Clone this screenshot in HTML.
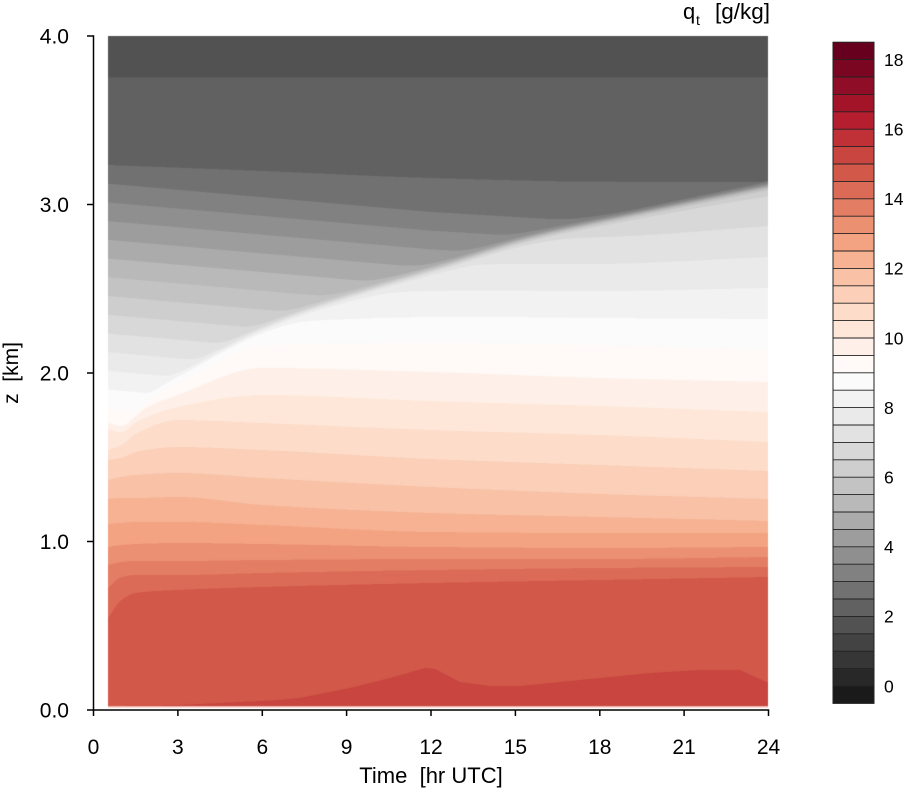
<!DOCTYPE html>
<html><head><meta charset="utf-8">
<style>
html,body{margin:0;padding:0;background:#fff;}
body{width:904px;height:792px;position:relative;overflow:hidden;font-family:"Liberation Sans",Arial,sans-serif;}
#c{position:absolute;left:0;top:0;}
#s{position:absolute;left:0;top:0;}
</style></head><body>
<canvas id="c" width="904" height="792"></canvas>
<svg id="s" width="904" height="792" xmlns="http://www.w3.org/2000/svg" font-family="Liberation Sans, Arial, sans-serif">
<g stroke="#000" stroke-width="1.5" fill="none">
<line x1="93.5" y1="35.3" x2="93.5" y2="710.7"/>
<line x1="92.8" y1="710" x2="769.2" y2="710"/>
<line x1="87" y1="36" x2="93.5" y2="36"/>
<line x1="87" y1="204.5" x2="93.5" y2="204.5"/>
<line x1="87" y1="373" x2="93.5" y2="373"/>
<line x1="87" y1="541.5" x2="93.5" y2="541.5"/>
<line x1="87" y1="710" x2="93.5" y2="710"/>
<line x1="93.5" y1="710" x2="93.5" y2="716"/>
<line x1="177.9" y1="710" x2="177.9" y2="716"/>
<line x1="262.3" y1="710" x2="262.3" y2="716"/>
<line x1="346.6" y1="710" x2="346.6" y2="716"/>
<line x1="431" y1="710" x2="431" y2="716"/>
<line x1="515.4" y1="710" x2="515.4" y2="716"/>
<line x1="599.8" y1="710" x2="599.8" y2="716"/>
<line x1="684.1" y1="710" x2="684.1" y2="716"/>
<line x1="768.5" y1="710" x2="768.5" y2="716"/>
</g>
<g font-size="21" fill="#000" text-anchor="end">
<text x="69" y="43.5">4.0</text>
<text x="69" y="212">3.0</text>
<text x="69" y="380.5">2.0</text>
<text x="69" y="549">1.0</text>
<text x="69" y="717.5">0.0</text>
</g>
<g font-size="21" fill="#000" text-anchor="middle">
<text x="93.5" y="754">0</text>
<text x="177.9" y="754">3</text>
<text x="262.3" y="754">6</text>
<text x="346.6" y="754">9</text>
<text x="431" y="754">12</text>
<text x="515.4" y="754">15</text>
<text x="599.8" y="754">18</text>
<text x="684.1" y="754">21</text>
<text x="768.5" y="754">24</text>
</g>
<text x="431" y="783" font-size="22" text-anchor="middle" fill="#000">Time&#160; [hr UTC]</text>
<text x="18" y="373" font-size="21" text-anchor="middle" fill="#000" transform="rotate(-90 18 373)">z&#160; [km]</text>
<text x="683" y="19" font-size="22" fill="#000">q</text>
<text x="696" y="25" font-size="14" fill="#000">t</text>
<text x="770" y="19" font-size="22.5" text-anchor="end" fill="#000">[g/kg]</text>
<g stroke="none">
<rect x="833" y="686.0" width="41" height="17.4" fill="#1a1a1a"/>
<rect x="833" y="668.6" width="41" height="17.4" fill="#282828"/>
<rect x="833" y="651.2" width="41" height="17.4" fill="#363636"/>
<rect x="833" y="633.8" width="41" height="17.4" fill="#434343"/>
<rect x="833" y="616.4" width="41" height="17.4" fill="#525252"/>
<rect x="833" y="599.0" width="41" height="17.4" fill="#616161"/>
<rect x="833" y="581.6" width="41" height="17.4" fill="#717171"/>
<rect x="833" y="564.2" width="41" height="17.4" fill="#818181"/>
<rect x="833" y="546.8" width="41" height="17.4" fill="#8f8f8f"/>
<rect x="833" y="529.4" width="41" height="17.4" fill="#9d9d9d"/>
<rect x="833" y="512.0" width="41" height="17.4" fill="#ababab"/>
<rect x="833" y="494.6" width="41" height="17.4" fill="#b9b9b9"/>
<rect x="833" y="477.2" width="41" height="17.4" fill="#c3c3c3"/>
<rect x="833" y="459.8" width="41" height="17.4" fill="#cecece"/>
<rect x="833" y="442.4" width="41" height="17.4" fill="#d8d8d8"/>
<rect x="833" y="425.0" width="41" height="17.4" fill="#e2e2e2"/>
<rect x="833" y="407.6" width="41" height="17.4" fill="#eaeaea"/>
<rect x="833" y="390.2" width="41" height="17.4" fill="#f2f2f2"/>
<rect x="833" y="372.8" width="41" height="17.4" fill="#fbfbfb"/>
<rect x="833" y="355.4" width="41" height="17.4" fill="#fffaf7"/>
<rect x="833" y="338.0" width="41" height="17.4" fill="#fef0e8"/>
<rect x="833" y="320.6" width="41" height="17.4" fill="#fee7d9"/>
<rect x="833" y="303.2" width="41" height="17.4" fill="#fdddca"/>
<rect x="833" y="285.8" width="41" height="17.4" fill="#fbcfb8"/>
<rect x="833" y="268.4" width="41" height="17.4" fill="#f9c1a5"/>
<rect x="833" y="251.0" width="41" height="17.4" fill="#f6b293"/>
<rect x="833" y="233.6" width="41" height="17.4" fill="#f3a381"/>
<rect x="833" y="216.2" width="41" height="17.4" fill="#eb9172"/>
<rect x="833" y="198.8" width="41" height="17.4" fill="#e37e64"/>
<rect x="833" y="181.4" width="41" height="17.4" fill="#db6b56"/>
<rect x="833" y="164.0" width="41" height="17.4" fill="#d25849"/>
<rect x="833" y="146.6" width="41" height="17.4" fill="#c84540"/>
<rect x="833" y="129.2" width="41" height="17.4" fill="#bf3137"/>
<rect x="833" y="111.8" width="41" height="17.4" fill="#b51e2e"/>
<rect x="833" y="94.4" width="41" height="17.4" fill="#a41429"/>
<rect x="833" y="77.0" width="41" height="17.4" fill="#8f0d26"/>
<rect x="833" y="59.6" width="41" height="17.4" fill="#7b0622"/>
<rect x="833" y="42.2" width="41" height="17.4" fill="#67001f"/>
</g>
<g stroke="#222" stroke-width="0.9">
<line x1="833" x2="874" y1="686.0" y2="686.0"/><line x1="833" x2="874" y1="668.6" y2="668.6"/>
<line x1="833" x2="874" y1="651.2" y2="651.2"/><line x1="833" x2="874" y1="633.8" y2="633.8"/>
<line x1="833" x2="874" y1="616.4" y2="616.4"/><line x1="833" x2="874" y1="599.0" y2="599.0"/>
<line x1="833" x2="874" y1="581.6" y2="581.6"/><line x1="833" x2="874" y1="564.2" y2="564.2"/>
<line x1="833" x2="874" y1="546.8" y2="546.8"/><line x1="833" x2="874" y1="529.4" y2="529.4"/>
<line x1="833" x2="874" y1="512.0" y2="512.0"/><line x1="833" x2="874" y1="494.6" y2="494.6"/>
<line x1="833" x2="874" y1="477.2" y2="477.2"/><line x1="833" x2="874" y1="459.8" y2="459.8"/>
<line x1="833" x2="874" y1="442.4" y2="442.4"/><line x1="833" x2="874" y1="425.0" y2="425.0"/>
<line x1="833" x2="874" y1="407.6" y2="407.6"/><line x1="833" x2="874" y1="390.2" y2="390.2"/>
<line x1="833" x2="874" y1="372.8" y2="372.8"/><line x1="833" x2="874" y1="355.4" y2="355.4"/>
<line x1="833" x2="874" y1="338.0" y2="338.0"/><line x1="833" x2="874" y1="320.6" y2="320.6"/>
<line x1="833" x2="874" y1="303.2" y2="303.2"/><line x1="833" x2="874" y1="285.8" y2="285.8"/>
<line x1="833" x2="874" y1="268.4" y2="268.4"/><line x1="833" x2="874" y1="251.0" y2="251.0"/>
<line x1="833" x2="874" y1="233.6" y2="233.6"/><line x1="833" x2="874" y1="216.2" y2="216.2"/>
<line x1="833" x2="874" y1="198.8" y2="198.8"/><line x1="833" x2="874" y1="181.4" y2="181.4"/>
<line x1="833" x2="874" y1="164.0" y2="164.0"/><line x1="833" x2="874" y1="146.6" y2="146.6"/>
<line x1="833" x2="874" y1="129.2" y2="129.2"/><line x1="833" x2="874" y1="111.8" y2="111.8"/>
<line x1="833" x2="874" y1="94.4" y2="94.4"/><line x1="833" x2="874" y1="77.0" y2="77.0"/>
<line x1="833" x2="874" y1="59.6" y2="59.6"/>
</g>
<rect x="833" y="42.2" width="41" height="661.2" fill="none" stroke="#222" stroke-width="1"/>
<g font-size="17.5" fill="#000">
<text x="884" y="692.3">0</text>
<text x="884" y="622.7">2</text>
<text x="884" y="553.1">4</text>
<text x="884" y="483.5">6</text>
<text x="884" y="413.9">8</text>
<text x="884" y="344.3">10</text>
<text x="884" y="274.7">12</text>
<text x="884" y="205.1">14</text>
<text x="884" y="135.5">16</text>
<text x="884" y="65.9">18</text>
</g>
</svg>
<script>
(function(){
var cv=document.getElementById('c');var ctx=cv.getContext('2d');
var X0=108,X1=768,Y0=36,Y1=706,W=X1-X0,H=Y1-Y0;
var C=[[103,0,31],[178,24,43],[214,96,77],[244,165,130],[253,219,199],[255,255,255],[224,224,224],[186,186,186],[135,135,135],[77,77,77],[26,26,26]];
var COL=[];
for(var k=0;k<38;k++){var u=1-k/37;var i=Math.min(9,Math.floor(u*10));var f=u*10-i;var a=C[i],b=C[i+1];COL.push([a[0]+(b[0]-a[0])*f,a[1]+(b[1]-a[1])*f,a[2]+(b[2]-a[2])*f]);}
function pchip(xs,ys){
  var n=xs.length,h=[],dl=[],m=[];
  for(var i=0;i<n-1;i++){h.push(xs[i+1]-xs[i]);dl.push((ys[i+1]-ys[i])/h[i]);}
  m[0]=dl[0];m[n-1]=dl[n-2];
  for(var i=1;i<n-1;i++){
    if(dl[i-1]*dl[i]<=0){m[i]=0;}
    else{var w1=2*h[i]+h[i-1],w2=h[i]+2*h[i-1];m[i]=(w1+w2)/(w1/dl[i-1]+w2/dl[i]);}
  }
  return function(x){
    if(x<=xs[0])return ys[0];
    if(x>=xs[n-1])return ys[n-1];
    var i=0;while(i<n-2&&x>xs[i+1])i++;
    var hh=h[i],t=(x-xs[i])/hh,t2=t*t,t3=t2*t;
    var h00=2*t3-3*t2+1,h10=t3-2*t2+t,h01=-2*t3+3*t2,h11=t3-t2;
    return h00*ys[i]+h10*hh*m[i]+h01*ys[i+1]+h11*hh*m[i+1];
  };
}
var XN=[108,121.6,135.7,177.9,262.3,431,599.8,768.5];
var LT=[
[408,410,402,383,345,343,345,350],
[418,420,412,395,368,372,378,382],
[427,430,422,407,395,401,406,412],
[450,445,434,420,423,430,435,442],
[460,458,452,447,450,459,465,471],
[480,477,475,473,478,487,494,499],
[499,498,498,497,505,513,517,521],
[524,523,522,522,525,532,533,533],
[547,545,544,543,544,547,548,547],
[565,562,561,561,560,559,559,557],
[588,577,575,575,573,570,568,567],
[618,600,593,590,587,583,580,577]];
var LF=LT.map(function(r){return pchip(XN,r);});
var SF=pchip(XN,[20,20,20,20,22,26,27,31]);
var HF=pchip([108,121,135,156,200,250,300,367,440,530,630,768.5],[425,429,416,392,363,335,313,290,267,238,215,186]);
var TF=pchip([108,262,431,600,768],[165,171,178,181.7,182]);
var BX=[108,180,280,300,350,390,425,435,460,490,520,560,600,650,700,740,768.5];
var BY=[706,705,700,698,688,678,668,669,682,686,686,682,678,673,670,670,683];
function itp(xs,ys,x){var n=xs.length;if(x<=xs[0])return ys[0];if(x>=xs[n-1])return ys[n-1];for(var i=0;i<n-1;i++){if(x<=xs[i+1]){var f=(x-xs[i])/(xs[i+1]-xs[i]);return ys[i]+(ys[i+1]-ys[i])*f;}}return ys[n-1];}
var cols=[];
for(var px=0;px<W;px++){for(var j=0;j<2;j++){var x=X0+px+0.25+0.5*j;var t=(x-93.5)/28.125;var L=[];for(var r=0;r<LF.length;r++){var v=LF[r](x);if(r>0&&v<L[r-1]+0.5)v=L[r-1]+0.5;L.push(v);}var d=t<=12?0.0146*(t-0.53):0.1675+0.01*(t-12);cols.push({L:L,s:SF(x),h:HF(x),zt:TF(x),y15:itp(BX,BY,x),d:d});}}
function qbl(c,y){var L=c.L;if(y<=L[0])return 9-0.5*(L[0]-y)/c.s;var n=L.length;if(y>=L[n-1]){if(y<c.y15)return 14.5+0.5*(y-L[n-1])/Math.max(1,(c.y15-L[n-1]));return 15.25;}for(var i=0;i<n-1;i++){if(y<L[i+1]){return 9+0.5*i+0.5*(y-L[i])/(L[i+1]-L[i]);}}return 14.5;}
function qft(c,y){if(y<77.5)return 1.75;if(y<c.zt)return 2.25;var z=(710-y)/168.5;var ql=9-4.5*(z+c.d-1.79);return ql>2.6?ql:2.6;}
function q(c,y){var e=(y-c.h)/2;var w;if(e>20)w=1;else if(e<-20)w=0;else w=1/(1+Math.exp(-e));if(w>=1)return qbl(c,y);if(w<=0)return qft(c,y);return qft(c,y)*(1-w)+qbl(c,y)*w;}
var img=ctx.createImageData(W,H);var data=img.data;
for(var py=0;py<H;py++){for(var px2=0;px2<W;px2++){var R=0,G=0,B=0;for(var jj=0;jj<2;jj++){var c=cols[px2*2+jj];for(var s=0;s<2;s++){var v=q(c,Y0+py+0.25+0.5*s);var kk=Math.floor((v+0.5)*2);if(kk<0)kk=0;if(kk>37)kk=37;var cc=COL[kk];R+=cc[0];G+=cc[1];B+=cc[2];}}var o=(py*W+px2)*4;data[o]=R/4;data[o+1]=G/4;data[o+2]=B/4;data[o+3]=255;}}
ctx.putImageData(img,X0,Y0);
ctx.fillStyle='#eeb6ac';ctx.fillRect(X0,706,W,1);
ctx.fillStyle='#f8e0db';ctx.fillRect(X0,707,W,1);
})();
</script>
</body></html>
